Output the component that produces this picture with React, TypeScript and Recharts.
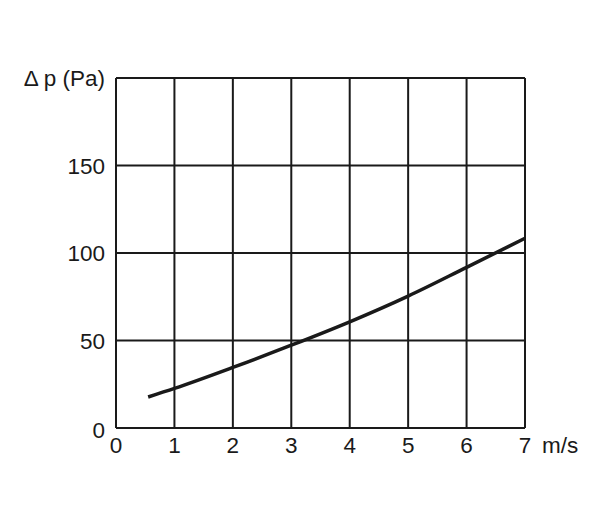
import { LineChart, Line, XAxis, YAxis, CartesianGrid } from "recharts";

// velocity (m/s) and pressure drop (Pa)
const velocity = [0.55, 1, 2, 3, 4, 5, 6, 7];
const pressure = [17.7, 22.6, 34.6, 47.3, 60.7, 75.4, 91.8, 108.4];

const xTicks = [0, 1, 2, 3, 4, 5, 6, 7];
const yTicks = [0, 50, 100, 150, 200];
const yTopLabel = "Δ p (Pa)";
const xUnit = "m/s";

const data = velocity.map((v, i) => ({ v, p: pressure[i] }));

const FONT = "'Liberation Sans', Arial, sans-serif";
const INK = "#1a1a1a";
const FS = 22.5;

function XTick(props: any) {
    const { x, y, payload } = props;
    return (
        <g>
            <text x={x} y={y} dy="0.71em" textAnchor="middle" fontSize={FS} fontFamily={FONT} fill={INK}>
                {payload.value}
            </text>
            {payload.value === 7 && (
                <text x={x + 17} y={y} dy="0.71em" textAnchor="start" fontSize={FS} fontFamily={FONT} fill={INK}>
                    {xUnit}
                </text>
            )}
        </g>
    );
}

function YTick(props: any) {
    const { x, y, payload } = props;
    const label = payload.value === 200 ? yTopLabel : String(payload.value);
    return (
        <text x={x} y={y + (payload.value === 0 ? 2 : 0)} dy="0.36em" textAnchor="end" fontSize={FS} fontFamily={FONT} fill={INK}>
            {label}
        </text>
    );
}

export default function App() {
    return (
        <div style={{ width: 604, height: 513 }}>
            <LineChart width={604} height={513} data={data} margin={{ top: 70, right: 87, bottom: 63, left: 48 }}>
                <CartesianGrid stroke={INK} strokeWidth={2} />
                <XAxis
                    dataKey="v"
                    type="number"
                    domain={[0, 7]}
                    ticks={xTicks}
                    height={30}
                    tickSize={0}
                    tickMargin={9}
                    axisLine={false}
                    tickLine={false}
                    tick={<XTick />}
                />
                <YAxis
                    type="number"
                    domain={[0, 200]}
                    ticks={yTicks}
                    width={60}
                    tickSize={0}
                    tickMargin={11}
                    axisLine={false}
                    tickLine={false}
                    tick={<YTick />}
                />
                <Line
                    type="monotone"
                    dataKey="p"
                    stroke={INK}
                    strokeWidth={3.5}
                    dot={false}
                    isAnimationActive={false}
                />
            </LineChart>
        </div>
    );
}
